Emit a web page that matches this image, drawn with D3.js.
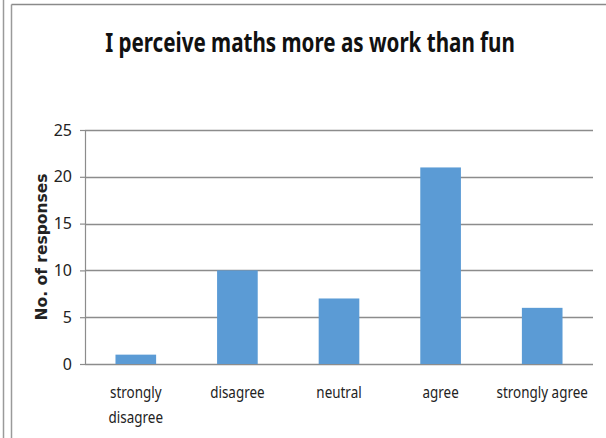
<!DOCTYPE html>
<html>
<head>
<meta charset="utf-8">
<script src="https://cdn.jsdelivr.net/npm/d3@7"></script>
<style>
  html, body { margin: 0; padding: 0; background: #fff; }
  svg { display: block; }
</style>
</head>
<body>
<svg id="chart" width="606" height="438"></svg>
<script>
const categories = ['strongly disagree', 'disagree', 'neutral', 'agree', 'strongly agree'];
const responses = [1, 10, 7, 21, 6];
const yTicks = [0, 5, 10, 15, 20, 25];
const title = 'I perceive maths more as work than fun';
const yLabel = 'No. of responses';

const svg = d3.select('#chart');
const margin = { left: 85, right: 13, top: 130, bottom: 74 };
const width = 606, height = 438;
const font = '"Noto Sans", "Open Sans", sans-serif';
const squeeze = 0.84; // narrow look of the original labels

// frame lines
svg.append('line').attr('x1', 3.5).attr('x2', 3.5).attr('y1', 0).attr('y2', height)
  .attr('stroke', '#9a9a9a').attr('stroke-width', 1.5);
svg.append('line').attr('x1', 11.5).attr('x2', 11.5).attr('y1', 4.5).attr('y2', height)
  .attr('stroke', '#9a9a9a').attr('stroke-width', 1.5);
svg.append('line').attr('x1', 11.5).attr('x2', width).attr('y1', 4.5).attr('y2', 4.5)
  .attr('stroke', '#8a8a8a').attr('stroke-width', 1.5);

const x = d3.scaleBand()
  .domain(categories)
  .range([margin.left, width - margin.right])
  .paddingInner(0.6)
  .paddingOuter(0.3);

const y = d3.scaleLinear()
  .domain([0, 25])
  .range([height - margin.bottom, margin.top]);

// gridlines
svg.append('g')
  .selectAll('line')
  .data(yTicks)
  .enter()
  .append('line')
  .attr('x1', margin.left)
  .attr('x2', width - margin.right)
  .attr('y1', (d) => Math.round(y(d)) + 0.5)
  .attr('y2', (d) => Math.round(y(d)) + 0.5)
  .attr('stroke', '#8c8c8c')
  .attr('stroke-width', 1.5);

// y axis
const yAxis = svg.append('g')
  .attr('transform', `translate(${margin.left},0)`)
  .call(d3.axisLeft(y).tickValues(yTicks).tickSize(5).tickPadding(8));
yAxis.select('.domain').attr('stroke', '#8c8c8c').attr('stroke-width', 1.2);
yAxis.selectAll('.tick line').attr('stroke', '#8c8c8c').attr('stroke-width', 1.2);
yAxis.selectAll('.tick text')
  .attr('font-family', font)
  .attr('font-size', 16)
  .attr('fill', '#222');

// bars
svg.append('g')
  .selectAll('rect')
  .data(responses)
  .enter()
  .append('rect')
  .attr('x', (d, i) => x(categories[i]))
  .attr('width', x.bandwidth())
  .attr('y', (d) => y(d))
  .attr('height', (d) => y(0) - y(d))
  .attr('fill', '#5b9bd5');

// x labels
const labelLines = {
  'strongly disagree': ['strongly', 'disagree'],
};
categories.forEach((c) => {
  const lines = labelLines[c] || [c];
  const cx = x(c) + x.bandwidth() / 2;
  const t = svg.append('text')
    .attr('font-family', font)
    .attr('text-anchor', 'middle')
    .attr('font-size', 16)
    .attr('fill', '#222')
    .attr('transform', `translate(${cx},398) scale(${squeeze},1)`);
  lines.forEach((l, i) => {
    t.append('tspan')
      .attr('x', 0)
      .attr('dy', i === 0 ? 0 : 25)
      .text(l);
  });
});

// y label
svg.append('text')
  .attr('transform', `translate(47,${(y(0) + y(25)) / 2}) rotate(-90)`)
  .attr('text-anchor', 'middle')
  .attr('font-family', '"DejaVu Sans", sans-serif')
  .attr('font-weight', 'bold')
  .attr('font-size', 15.5)
  .attr('fill', '#222')
  .text(yLabel);

// title, squeezed to the width of the original
const titleText = svg.append('text')
  .attr('font-family', font)
  .attr('text-anchor', 'middle')
  .attr('font-weight', 'bold')
  .attr('font-size', 27)
  .attr('fill', '#111')
  .text(title);
const tw = titleText.node().getComputedTextLength();
titleText.attr('transform', `translate(310,52) scale(${Math.min(1, 410 / tw)},1)`);
</script>
</body>
</html>
